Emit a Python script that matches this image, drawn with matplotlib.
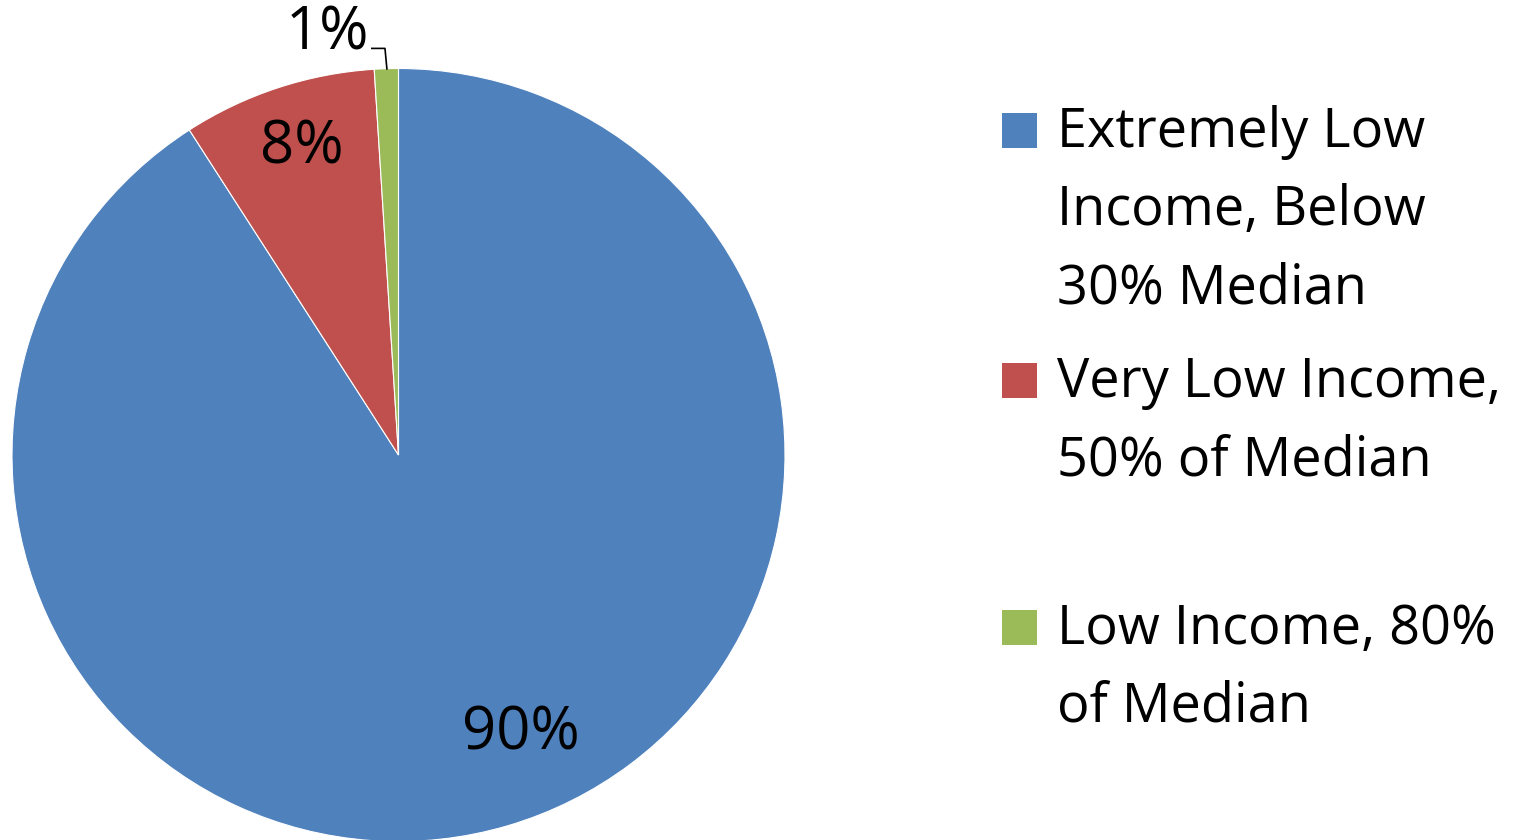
import matplotlib
matplotlib.use("Agg")
import matplotlib.pyplot as plt
from matplotlib.patches import Rectangle

# ---- data ----
categories = [
    "Extremely Low\nIncome, Below\n30% Median",
    "Very Low Income,\n50% of Median",
    "Low Income, 80%\nof Median",
]
values = [90.9, 8.1, 1.0]
value_labels = ["90%", "8%", "1%"]
colors = ["#4F81BD", "#C0504D", "#9BBB59"]

FONT = "Open Sans"
W, H = 1534, 840
fig = plt.figure(figsize=(W / 100, H / 100), dpi=100)
fig.patch.set_facecolor("white")

# pie axes: center (398.5, 455) px, radius 386.5 px
cx, cy, r = 398.5, 455.0, 386.5
ax = fig.add_axes([(cx - r) / W, (H - cy - r) / H, 2 * r / W, 2 * r / H])

ax.pie(values, colors=colors, startangle=90, counterclock=False, radius=1.0,
       wedgeprops=dict(edgecolor="white", linewidth=0.8))
ax.set_xlim(-1, 1)
ax.set_ylim(-1, 1)
ax.set_aspect("equal")
ax.axis("off")

# value labels (positions in axes data units)
label_pos = [(0.317, -0.763), (-0.251, 0.755), (-0.185, 1.048)]
for (x, y), t in zip(label_pos, value_labels):
    ax.text(x, y, t, ha="center", va="baseline", fontsize=43,
            family=FONT, color="black", clip_on=False)
# leader line for the small slice
ax.plot([-0.069, -0.035, -0.030], [1.052, 1.052, 0.999], color="black",
        lw=1.2, clip_on=False)

# ---- legend (manual, Excel-like spacing) ----
entry_first_baseline = [147, 397, 644]
line_step = 78
box = 35
for cat, col, b0 in zip(categories, colors, entry_first_baseline):
    lines = cat.split("\n")
    fig.patches.append(Rectangle(((1002) / W, (H - (b0 + 1)) / H), box / W, box / H,
                                 transform=fig.transFigure, facecolor=col,
                                 edgecolor="none"))
    for i, ln in enumerate(lines):
        fig.text(1057 / W, (H - (b0 + i * line_step)) / H, ln, ha="left",
                 va="baseline", fontsize=39, family=FONT, color="black")

fig.savefig("out.png", dpi=100, facecolor="white")
